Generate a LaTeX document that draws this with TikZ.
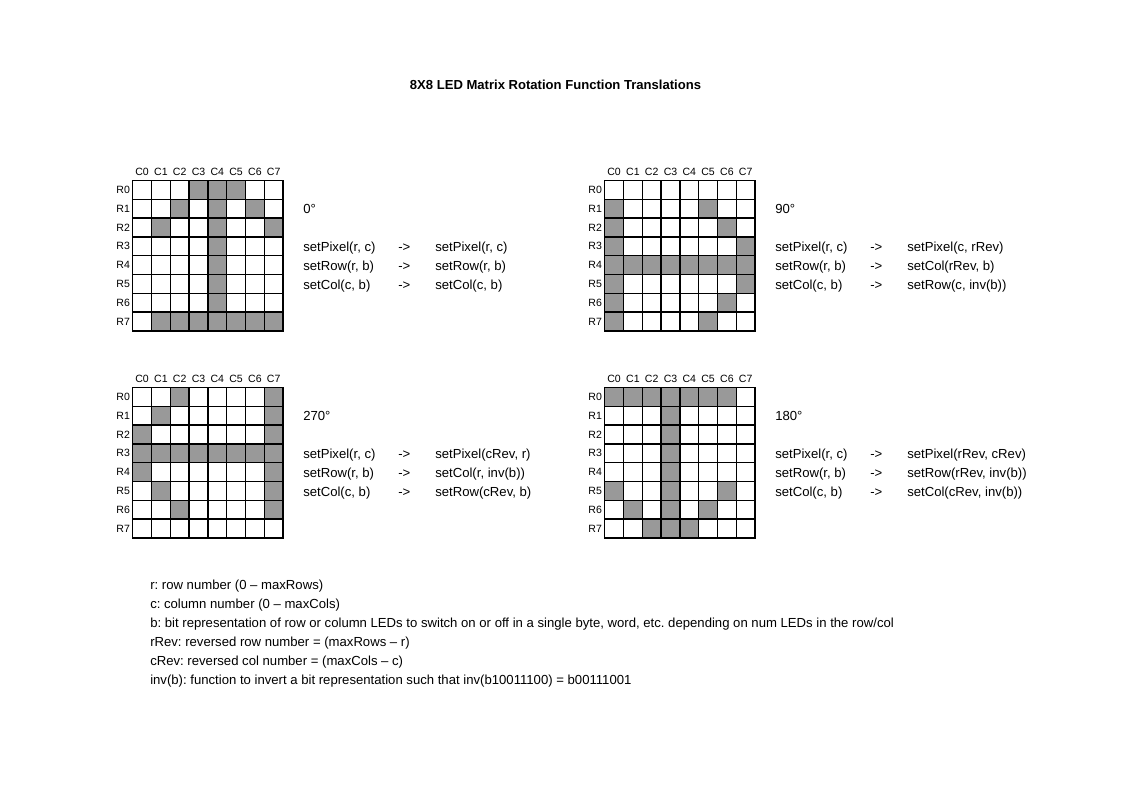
\documentclass[tikz,border=0pt]{standalone}
\usepackage{fontspec}
\setmainfont{Liberation Sans}
\frenchspacing
\definecolor{ledgray}{RGB}{153,153,153}
\tikzset{
  txt/.style={anchor=base west, inner sep=0pt, font=\fontsize{9.85}{12}\selectfont},
  titletxt/.style={anchor=base, inner sep=0pt, font=\fontsize{9.8}{12}\selectfont\bfseries},
  collab/.style={anchor=center, inner sep=0pt, font=\fontsize{7.9}{9}\selectfont},
  rowlab/.style={anchor=east, inner sep=0pt, font=\fontsize{7.9}{9}\selectfont},
  ledon/.style={fill=ledgray},
  gridline/.style={draw=black, line width=1.1pt, line cap=rect},
}
\newcommand{\ledgrid}[4]{%
  \begin{scope}[shift={(#2,#3)}]
    \foreach \c in {0,...,7} \node[collab] (#1c\c) at ({(\c+0.5)*18.8},-9) {C\c};
    \foreach \r in {0,...,7} \node[rowlab] (#1r\r) at (-2.5,{(\r+0.5)*18.8}) {R\r};
    \foreach \r/\c in {#4} \fill[ledon] ({\c*18.8},{\r*18.8}) rectangle ({(\c+1)*18.8},{(\r+1)*18.8});
    \foreach \i in {0,...,8} {
      \draw[gridline] ({\i*18.8},0) -- ({\i*18.8},150.4);
      \draw[gridline] (0,{\i*18.8}) -- (150.4,{\i*18.8});
    }
  \end{scope}}
% #1 name, #2 x of first column, #3 y offset, #4 angle, #5 #6 #7 translations
\newcommand{\rotblock}[7]{%
  \node[txt] (#1ang) at (#2,{213.6+#3}) {#4};
  \node[txt] (#1pa) at (#2,{251.4+#3}) {setPixel(r, c)};
  \node[txt] (#1ra) at (#2,{270.2+#3}) {setRow(r, b)};
  \node[txt] (#1ca) at (#2,{289+#3}) {setCol(c, b)};
  \node[txt] (#1pb) at ({#2+95},{251.4+#3}) {->};
  \node[txt] (#1rb) at ({#2+95},{270.2+#3}) {->};
  \node[txt] (#1cb) at ({#2+95},{289+#3}) {->};
  \node[txt] (#1pc) at ({#2+132},{251.4+#3}) {#5};
  \node[txt] (#1rc) at ({#2+132},{270.2+#3}) {#6};
  \node[txt] (#1cc) at ({#2+132},{289+#3}) {#7};}
\begin{document}
\begin{tikzpicture}[x=0.75pt,y=-0.75pt]
\useasboundingbox[fill=white] (0,0) rectangle (1122,793);
\node[titletxt] (title) at (555.5,89) {8X8 LED Matrix Rotation Function Translations};

\ledgrid{ga}{132.7}{180.5}{0/3,0/4,0/5,1/2,1/4,1/6,2/1,2/4,2/7,3/4,4/4,5/4,6/4,7/1,7/2,7/3,7/4,7/5,7/6,7/7}
\ledgrid{gb}{604.7}{180.5}{1/0,1/5,2/0,2/6,3/0,3/7,4/0,4/1,4/2,4/3,4/4,4/5,4/6,4/7,5/0,5/7,6/0,6/6,7/0,7/5}
\ledgrid{gc}{132.7}{387.5}{0/2,0/7,1/1,1/7,2/0,2/7,3/0,3/1,3/2,3/3,3/4,3/5,3/6,3/7,4/0,4/7,5/1,5/7,6/2,6/7}
\ledgrid{gd}{604.7}{387.5}{0/0,0/1,0/2,0/3,0/4,0/5,0/6,1/3,2/3,3/3,4/3,5/0,5/3,5/6,6/1,6/3,6/5,7/2,7/3,7/4}

\rotblock{ta}{303}{0}{0°}{setPixel(r, c)}{setRow(r, b)}{setCol(c, b)}
\rotblock{tb}{775}{0}{90°}{setPixel(c, rRev)}{setCol(rRev, b)}{setRow(c, inv(b))}
\rotblock{tc}{303}{207}{270°}{setPixel(cRev, r)}{setCol(r, inv(b))}{setRow(cRev, b)}
\rotblock{td}{775}{207}{180°}{setPixel(rRev, cRev)}{setRow(rRev, inv(b))}{setCol(cRev, inv(b))}

\node[txt] (leg1) at (150,589.8) {r: row number (0 – maxRows)};
\node[txt] (leg2) at (150,608.8) {c: column number (0 – maxCols)};
\node[txt] (leg3) at (150,627.8) {b: bit representation of row or column LEDs to switch on or off in a single byte, word, etc. depending on num LEDs in the row/col};
\node[txt] (leg4) at (150,646.8) {rRev: reversed row number = (maxRows – r)};
\node[txt] (leg5) at (150,665.8) {cRev: reversed col number = (maxCols – c)};
\node[txt] (leg6) at (150,684.8) {inv(b): function to invert a bit representation such that inv(b10011100) = b00111001};
\end{tikzpicture}
\end{document}
